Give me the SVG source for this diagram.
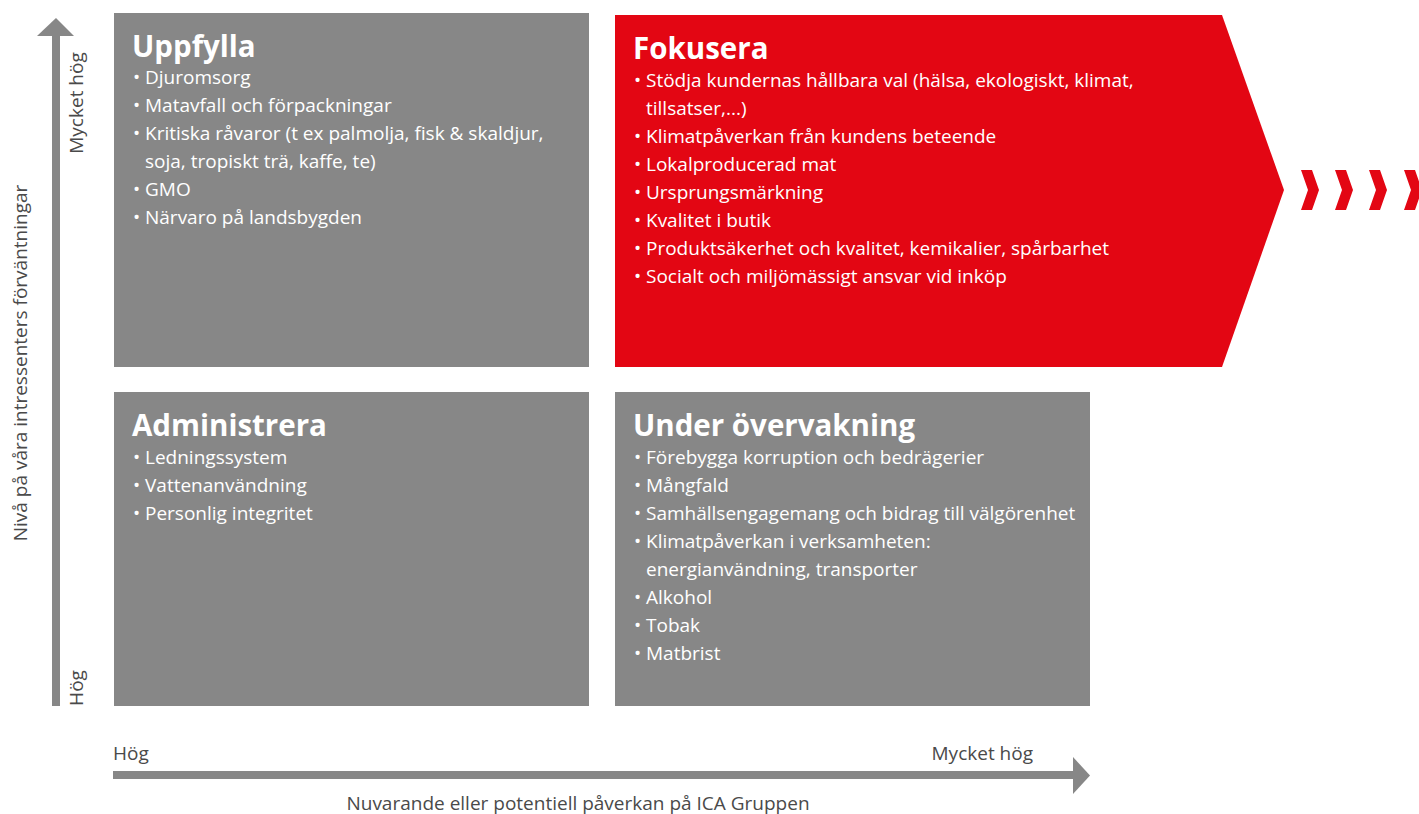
<svg xmlns="http://www.w3.org/2000/svg" width="1419" height="814" viewBox="0 0 1419 814">
  <style>
    .box { fill: #878787; }
    .focus { fill: #e30613; }
    .title { font-family: "Open Sans", "Noto Sans", sans-serif; font-weight: bold; font-size: 29.5px; fill: #ffffff; }
    .item { font-family: "Open Sans", "Noto Sans", sans-serif; font-size: 19px; fill: #ffffff; }
    .axis { fill: #878787; }
    .label { font-family: "Open Sans", "Noto Sans", sans-serif; font-size: 19px; fill: #4a4a4a; }
  </style>

  <!-- Quadrant: top left -->
  <g id="uppfylla">
    <rect class="box" x="114" y="13" width="475" height="354"/>
    <text class="title" x="132" y="57">Uppfylla</text>
    <text class="item" x="133" y="84">•<tspan x="145">Djuromsorg</tspan></text>
    <text class="item" x="133" y="112">•<tspan x="145">Matavfall och förpackningar</tspan></text>
    <text class="item" x="133" y="140">•<tspan x="145">Kritiska råvaror (t ex palmolja, fisk &amp; skaldjur,</tspan></text>
    <text class="item" x="145" y="168">soja, tropiskt trä, kaffe, te)</text>
    <text class="item" x="133" y="196">•<tspan x="145">GMO</tspan></text>
    <text class="item" x="133" y="224">•<tspan x="145">Närvaro på landsbygden</tspan></text>
  </g>

  <!-- Quadrant: top right, arrow-shaped -->
  <g id="fokusera">
    <polygon class="focus" points="615,15 1222,15 1284,190 1222,367 615,367"/>
    <text class="title" x="633" y="59">Fokusera</text>
    <text class="item" x="634" y="87">•<tspan x="646">Stödja kundernas hållbara val (hälsa, ekologiskt, klimat,</tspan></text>
    <text class="item" x="646" y="115">tillsatser,...)</text>
    <text class="item" x="634" y="143">•<tspan x="646">Klimatpåverkan från kundens beteende</tspan></text>
    <text class="item" x="634" y="171">•<tspan x="646">Lokalproducerad mat</tspan></text>
    <text class="item" x="634" y="199">•<tspan x="646">Ursprungsmärkning</tspan></text>
    <text class="item" x="634" y="227">•<tspan x="646">Kvalitet i butik</tspan></text>
    <text class="item" x="634" y="255">•<tspan x="646">Produktsäkerhet och kvalitet, kemikalier, spårbarhet</tspan></text>
    <text class="item" x="634" y="283">•<tspan x="646">Socialt och miljömässigt ansvar vid inköp</tspan></text>
  </g>

  <!-- Chevrons -->
  <g id="chevrons" class="focus">
    <polygon points="1301,170 1312,170 1319,190 1312,210 1301,210 1308,190"/>
    <polygon points="1335,170 1346,170 1353,190 1346,210 1335,210 1342,190"/>
    <polygon points="1369,170 1380,170 1387,190 1380,210 1369,210 1376,190"/>
    <polygon points="1404,170 1415,170 1422,190 1415,210 1404,210 1411,190"/>
  </g>

  <!-- Quadrant: bottom left -->
  <g id="administrera">
    <rect class="box" x="114" y="392" width="475" height="314"/>
    <text class="title" x="132" y="436">Administrera</text>
    <text class="item" x="133" y="464">•<tspan x="145">Ledningssystem</tspan></text>
    <text class="item" x="133" y="492">•<tspan x="145">Vattenanvändning</tspan></text>
    <text class="item" x="133" y="520">•<tspan x="145">Personlig integritet</tspan></text>
  </g>

  <!-- Quadrant: bottom right -->
  <g id="under-overvakning">
    <rect class="box" x="615" y="392" width="475" height="314"/>
    <text class="title" x="633" y="436">Under övervakning</text>
    <text class="item" x="634" y="464">•<tspan x="646">Förebygga korruption och bedrägerier</tspan></text>
    <text class="item" x="634" y="492">•<tspan x="646">Mångfald</tspan></text>
    <text class="item" x="634" y="520">•<tspan x="646">Samhällsengagemang och bidrag till välgörenhet</tspan></text>
    <text class="item" x="634" y="548">•<tspan x="646">Klimatpåverkan i verksamheten:</tspan></text>
    <text class="item" x="646" y="576">energianvändning, transporter</text>
    <text class="item" x="634" y="604">•<tspan x="646">Alkohol</tspan></text>
    <text class="item" x="634" y="632">•<tspan x="646">Tobak</tspan></text>
    <text class="item" x="634" y="660">•<tspan x="646">Matbrist</tspan></text>
  </g>

  <!-- Axes -->
  <g id="axes">
    <rect class="axis" x="52" y="35" width="8" height="671"/>
    <polygon class="axis" points="37,36 56,18 74,36"/>
    <rect class="axis" x="113" y="771" width="961" height="8"/>
    <polygon class="axis" points="1073,757 1090,775.5 1073,794"/>
  </g>

  <!-- Axis labels -->
  <g id="axis-labels">
    <text class="label" transform="translate(83,103) rotate(-90)" text-anchor="middle">Mycket hög</text>
    <text class="label" transform="translate(83,688) rotate(-90)" text-anchor="middle">Hög</text>
    <text class="label" transform="translate(27,363) rotate(-90)" text-anchor="middle">Nivå på våra intressenters förväntningar</text>
    <text class="label" x="113" y="760">Hög</text>
    <text class="label" x="1033" y="760" text-anchor="end">Mycket hög</text>
    <text class="label" x="578" y="810" text-anchor="middle">Nuvarande eller potentiell påverkan på ICA Gruppen</text>
  </g>
</svg>
